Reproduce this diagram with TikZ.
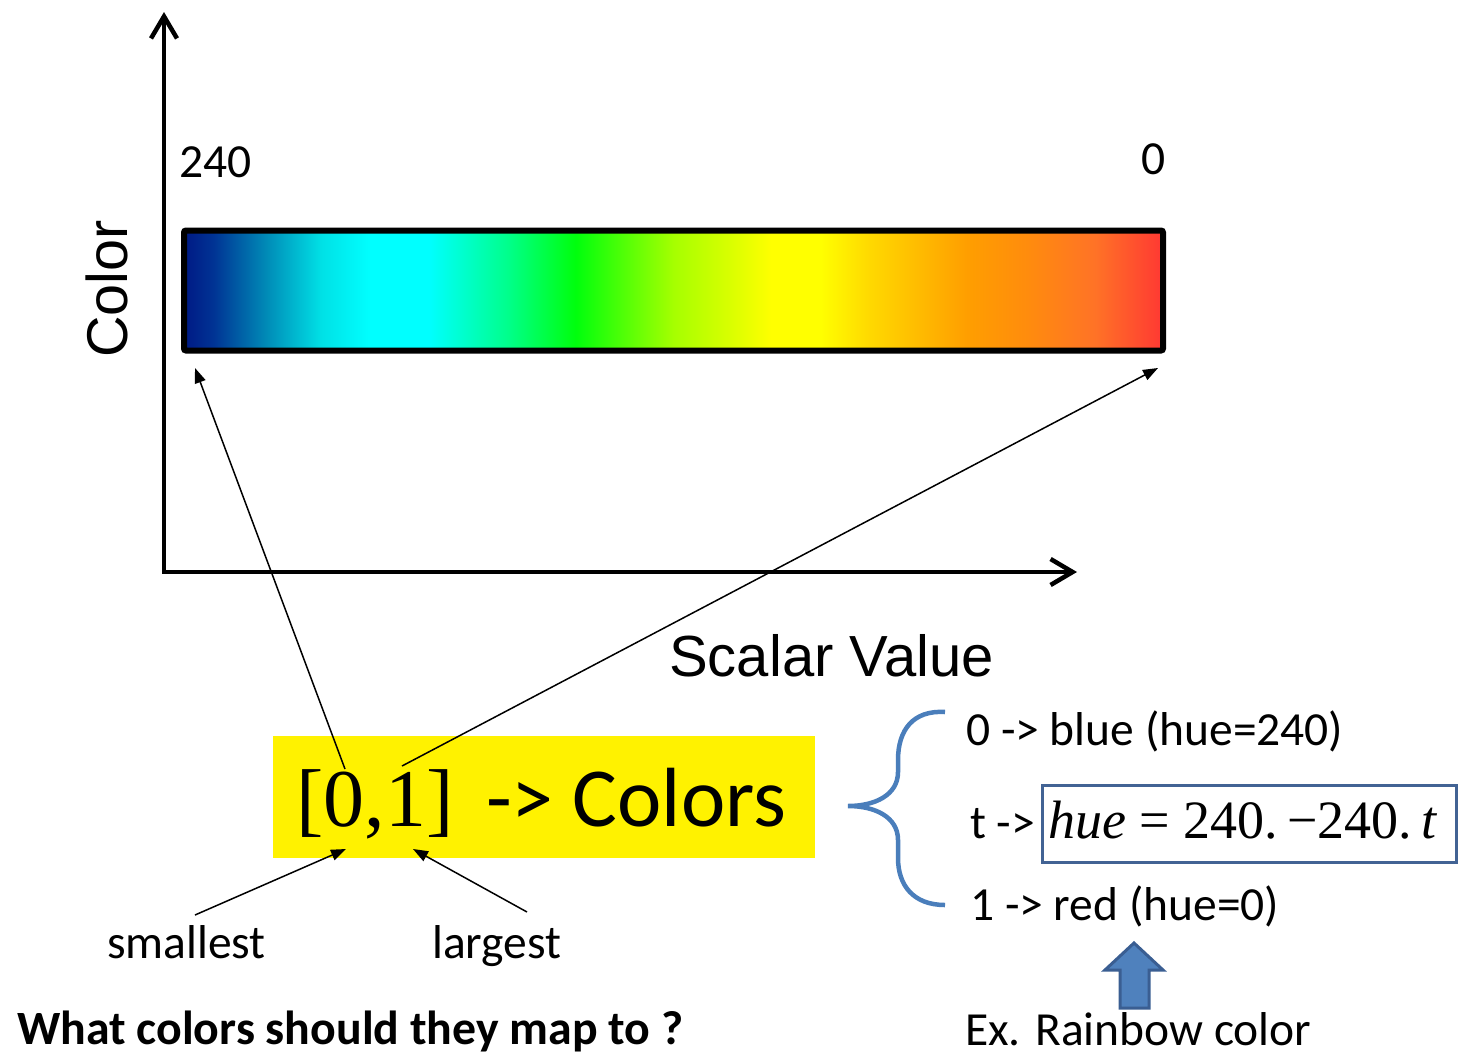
\documentclass[tikz,border=0pt]{standalone}
\usepackage{fontspec}
\setmainfont{Carlito}
\newfontfamily\arialf{Liberation Sans}
\newfontfamily\timesf{Liberation Serif}
\usetikzlibrary{arrows.meta}
\definecolor{bracecol}{RGB}{74,126,187}
\definecolor{huecol}{RGB}{66,99,148}
\definecolor{arrfill}{RGB}{79,129,189}
\definecolor{arrline}{RGB}{58,94,146}
\pgfdeclarehorizontalshading{rainbowbar}{100bp}{%
rgb(0bp)=(0,0.10,0.52);
rgb(25bp)=(0,0.10,0.52);
rgb(26.5bp)=(0,0.2,0.58);
rgb(29.25bp)=(0,0.55,0.72);
rgb(32bp)=(0,0.88,0.9);
rgb(34.5bp)=(0,1,1);
rgb(37.5bp)=(0,1,1);
rgb(41.5bp)=(0,1,0.55);
rgb(45bp)=(0,1,0.05);
rgb(50bp)=(0.65,1,0);
rgb(55bp)=(1,1,0);
rgb(57.5bp)=(1,1,0);
rgb(60bp)=(1,0.85,0);
rgb(65bp)=(1,0.62,0);
rgb(68bp)=(1,0.55,0.05);
rgb(71.5bp)=(1,0.45,0.15);
rgb(75bp)=(1,0.22,0.2);
rgb(100bp)=(1,0.22,0.2)}
\begin{document}
\begin{tikzpicture}[x=1pt,y=-1pt,
  lbl/.style={font=\fontsize{47.5}{55}\selectfont, inner sep=0pt, anchor=base west},
  axis/.style={line width=4.5pt, line join=miter,
    {Straight Barb[length=22pt,width=26pt]}-{Straight Barb[length=22pt,width=26pt]}},
  ptr/.style={line width=1.5pt, -{Triangle[length=15pt,width=11pt]}},
]
\useasboundingbox (0,0) rectangle (1458,1055);
\fill[white] (0,0) rectangle (1458,1055);

% axes
\coordinate (ytip) at (164,12);
\coordinate (orig) at (164,572);
\coordinate (xtip) at (1077,572);
\draw[axis] (ytip) -- (orig) -- (xtip);
\node[rotate=90, anchor=base west, inner sep=0pt, font=\arialf\fontsize{57.5}{60}\selectfont] (ylab) at (127,358) {Color};
\node[anchor=base west, inner sep=0pt, font=\arialf\fontsize{58}{60}\selectfont] (xlab) at (669,676) {Scalar Value};

% colour bar
\node[draw, line width=6pt, rounded corners=2pt, shade, shading=rainbowbar,
  minimum width=979pt, minimum height=120pt, inner sep=0pt] (bar) at (673.5,290.5) {};
\node[lbl] (l240) at (179,177) {240};
\node[lbl] (l0) at (1141,174) {0};

% yellow box
\node[fill=yellow, minimum width=542pt, minimum height=122pt, inner sep=0pt, anchor=north west] (ybox) at (273,736) {};
\node[inner sep=0pt, anchor=base west, font=\timesf\fontsize{82}{90}\selectfont] (intv) at (296,826) {[0,1]};
\node[inner sep=0pt, anchor=base west, font=\fontsize{84}{90}\selectfont] (tocol) at (486,826) {-> Colors};

\coordinate (z0) at (345,769);
\coordinate (z1) at (402,766);
\coordinate (z0b) at (346,849);
\coordinate (z1b) at (413,849);
\coordinate (barL) at (195,368);
\coordinate (barR) at (1158,368);
\draw[ptr] (z0) -- (barL);
\draw[ptr] (z1) -- (barR);

\node[lbl] (small) at (107,958) {smallest};
\node[lbl] (large) at (432,958) {largest};
\coordinate (s0) at (195,915);
\coordinate (g0) at (527,912);
\draw[ptr] (s0) -- (z0b);
\draw[ptr] (g0) -- (z1b);

% brace
\draw[bracecol, line width=4.5pt, line cap=butt]
  (945,712) .. controls (913,710) and (898,730) .. (898,760) -- (898,772)
  .. controls (898,795) and (875,806) .. (848,806)
  .. controls (875,806) and (898,817) .. (898,840) -- (898,858)
  .. controls (898,885) and (913,905) .. (945,905);

% right texts
\node[lbl] (r0) at (966,745) {0 -> blue (hue=240)};
\node[lbl] (rt) at (970,838) {t ->};
\node[draw=huecol, line width=3pt, minimum width=414pt, minimum height=77pt, inner sep=0pt, anchor=north west] (huebox) at (1041,783.5) {};
\node[lbl, font=\timesf\fontsize{54}{55}\selectfont] (hue) at (1048,838) {\textit{hue} = 240.\,−240.\,\textit{t}};
\node[lbl] (r1) at (970,920) {1 -> red (hue=0)};

% block arrow
\draw[fill=arrfill, draw=arrline, line width=3pt, line join=miter]
  (1134,943) -- (1163,970) -- (1149,970) -- (1149,1008) -- (1120,1008) -- (1120,970) -- (1105,970) -- cycle;
\node[lbl] (ex) at (965,1045) {Ex. Rainbow color};
\node[lbl, font=\bfseries\fontsize{47.8}{55}\selectfont] (q) at (17,1044) {What colors should they map to ?};
\end{tikzpicture}
\end{document}
